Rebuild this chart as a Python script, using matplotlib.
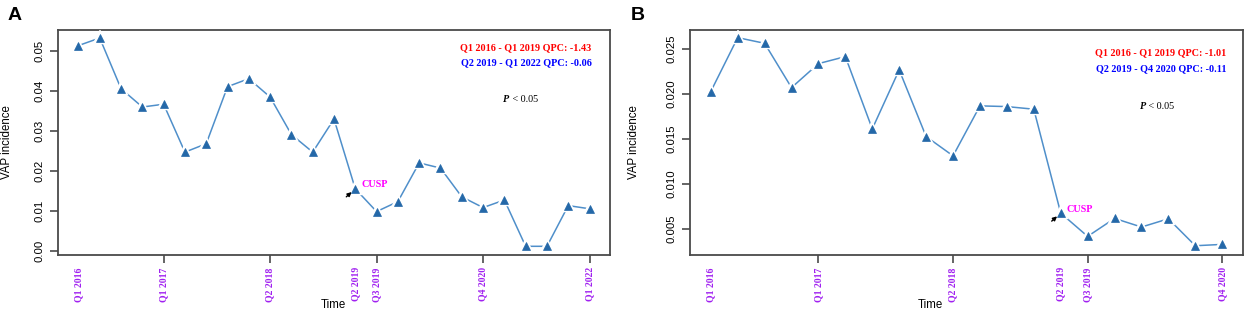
import matplotlib
matplotlib.use('Agg')
import matplotlib.pyplot as plt

# ---------------- data ----------------
vap_a = [0.0514, 0.0533, 0.0406, 0.0360, 0.0367, 0.0247, 0.0268, 0.0411, 0.0431,
         0.0385, 0.0291, 0.0247, 0.0330, 0.0155, 0.0098, 0.0123, 0.0220, 0.0207,
         0.0135, 0.0108, 0.0127, 0.0011, 0.0011, 0.0113, 0.0105]
vap_b = [0.02026, 0.02626, 0.02563, 0.0207, 0.02337, 0.02415, 0.01611, 0.02267,
         0.01526, 0.01311, 0.01867, 0.01859, 0.0183, 0.00674, 0.00415, 0.00615,
         0.00519, 0.00611, 0.00311, 0.00326]

xtick_idx_a = [0, 4, 9, 13, 14, 19, 24]
xtick_lab_a = ["Q1 2016", "Q1 2017", "Q2 2018", "Q2 2019", "Q3 2019", "Q4 2020", "Q1 2022"]
xtick_idx_b = [0, 4, 9, 13, 14, 19]
xtick_lab_b = ["Q1 2016", "Q1 2017", "Q2 2018", "Q2 2019", "Q3 2019", "Q4 2020"]
no_mark_idx = [0, 13]

yticks_a = [0.00, 0.01, 0.02, 0.03, 0.04, 0.05]
ylabs_a = ["0.00", "0.01", "0.02", "0.03", "0.04", "0.05"]
yticks_b = [0.005, 0.010, 0.015, 0.020, 0.025]
ylabs_b = ["0.005", "0.010", "0.015", "0.020", "0.025"]

cusp_idx = 13
seg1_a = "Q1 2016 - Q1 2019 QPC: -1.43"
seg2_a = "Q2 2019 - Q1 2022 QPC: -0.06"
seg1_b = "Q1 2016 - Q1 2019 QPC: -1.01"
seg2_b = "Q2 2019 - Q4 2020 QPC: -0.11"

# ---------------- style ----------------
W, H = 1247, 315
fig = plt.figure(figsize=(W / 100, H / 100), dpi=100)

SERIF = ['Liberation Serif', 'DejaVu Serif']
SANS = ['Liberation Sans', 'DejaVu Sans']
LINE_C = '#4f8fca'
MARK_C = '#2468a8'
FRAME_C = '#4a4a4a'
PURPLE = '#a020f0'


def panel(rect, vals, tick_idx, tick_lab, yt, yl, xlim, ylim, t1, t2,
          tpos, ppos, ylab_x, time_x, letter, letter_x):
    ax = fig.add_axes(rect)
    x = list(range(len(vals)))
    ax.plot(x, vals, color=LINE_C, lw=1.1, zorder=2)
    ax.plot(x, vals, ls='none', marker='^', ms=5.6, mfc=MARK_C, mec='white',
            mew=3.2, zorder=3)
    ax.plot(x, vals, ls='none', marker='^', ms=5.6, mfc=MARK_C, mec=MARK_C,
            mew=0.5, zorder=4)
    ax.set_xlim(*xlim)
    ax.set_ylim(*ylim)
    for s in ax.spines.values():
        s.set_color(FRAME_C)
        s.set_linewidth(1.3)
    ax.set_xticks(tick_idx)
    ax.set_xticklabels(tick_lab, rotation=90, family=SERIF, fontweight='bold',
                       color=PURPLE, fontsize=7)
    for i, t in zip(tick_idx, ax.xaxis.get_major_ticks()):
        if i in no_mark_idx:
            t.tick1line.set_visible(False)
    ax.set_yticks(yt)
    ax.set_yticklabels(yl, family=SANS, fontsize=8.2)
    for lab in ax.get_yticklabels():
        lab.set_rotation(90)
        lab.set_va('center')
    ax.tick_params(length=5.8, width=1.2, color=FRAME_C, pad=3)
    ax.tick_params(axis='y', pad=4)
    ax.set_ylabel("VAP incidence", family=SANS, fontsize=8.3)
    ax.yaxis.set_label_coords(ylab_x, 0.5)
    ax.set_xlabel("Time", family=SANS, fontsize=8.3)
    ax.xaxis.set_label_coords(time_x, -0.222)
    ax.xaxis.label.set_va('center')

    ax.text(tpos[0], tpos[1], t1, transform=ax.transAxes, ha='center', va='center',
            family=SERIF, fontweight='bold', fontsize=7.3, color='#ff0000')
    ax.text(tpos[0], tpos[2], t2, transform=ax.transAxes, ha='center', va='center',
            family=SERIF, fontweight='bold', fontsize=7.3, color='#0000ff')
    ax.text(ppos[0], ppos[1], "P", transform=ax.transAxes, ha='right', va='center',
            family=SERIF, fontweight='bold', style='italic', fontsize=7.3)
    ax.text(ppos[0], ppos[1], " < 0.05", transform=ax.transAxes, ha='left', va='center',
            family=SERIF, fontsize=7.3)

    cx, cy = cusp_idx, vals[cusp_idx]
    ax.annotate("CUSP", xy=(cx, cy), xytext=(6, 4), textcoords='offset pixels',
                ha='left', va='center', family=SERIF, fontweight='bold',
                fontsize=7.3, color='#ff00ff')
    ax.annotate("", xy=(cx, cy), xytext=(-9, -8), textcoords='offset pixels',
                arrowprops=dict(arrowstyle='-|>', color='black', lw=1.0,
                                mutation_scale=6, shrinkA=0, shrinkB=3.5))
    fig.text(letter_x, 1 - 16 / H, letter, family=SANS, fontweight='bold',
             fontsize=14, ha='center', va='center')
    return ax


panel([58 / W, 60 / H, 552 / W, 225 / H], vap_a, xtick_idx_a, xtick_lab_a,
      yticks_a, ylabs_a, (-0.96, 24.96), (-0.00108, 0.0553), seg1_a, seg2_a,
      (0.848, 0.923, 0.855), (0.818, 0.689), -0.0815, 0.498, "A", 15 / W)
panel([690.3 / W, 60 / H, 552.4 / W, 225 / H], vap_b, xtick_idx_b, xtick_lab_b,
      yticks_b, ylabs_b, (-0.76, 19.76), (0.00208, 0.02711), seg1_b, seg2_b,
      (0.852, 0.899, 0.830), (0.825, 0.662), -0.091, 0.434, "B", 638 / W)

fig.savefig("out.png", dpi=100)
